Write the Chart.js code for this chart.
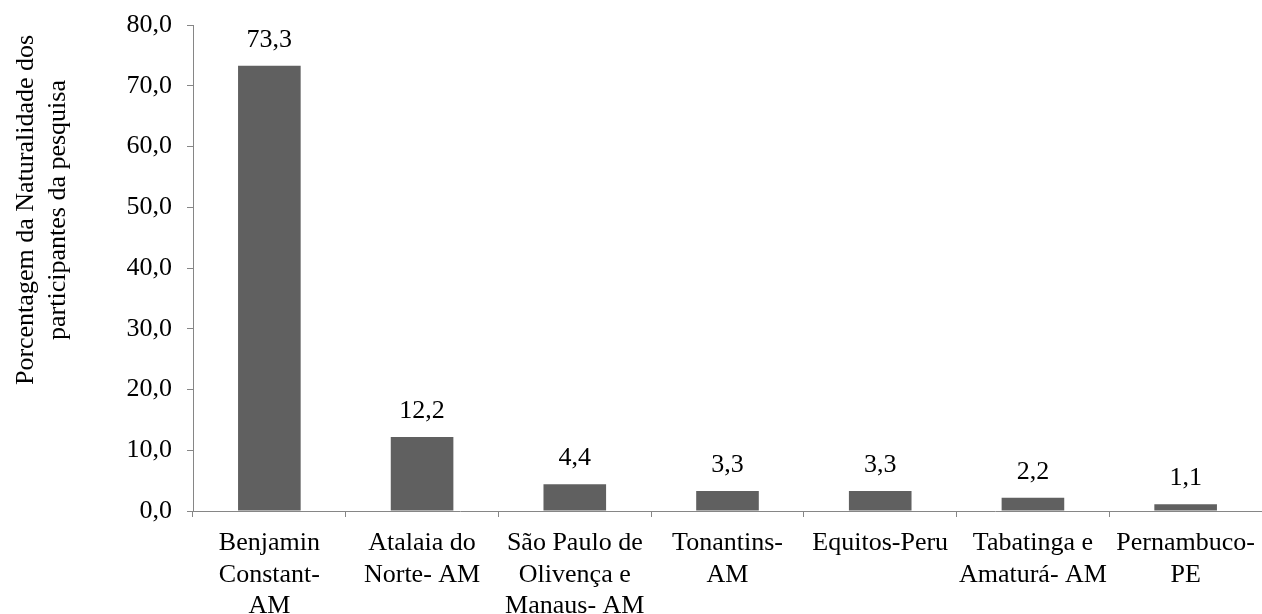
<!DOCTYPE html>
<html lang="pt">
<head>
<meta charset="utf-8">
<title>Naturalidade dos participantes da pesquisa</title>
<script src="https://cdn.jsdelivr.net/npm/chart.js@4/dist/chart.umd.min.js"></script>
<style>
  html, body { margin: 0; padding: 0; background: #ffffff; }
  #wrap { width: 1262px; height: 614px; position: relative; }
</style>
</head>
<body>
<div id="wrap"><canvas id="chart" width="1262" height="614"></canvas></div>
<script>
// Categories (multi-line labels) and percentages
const categories = [
  ["Benjamin", "Constant-", "AM"],
  ["Atalaia do", "Norte- AM"],
  ["São Paulo de", "Olivença e", "Manaus- AM"],
  ["Tonantins-", "AM"],
  ["Equitos-Peru"],
  ["Tabatinga e", "Amaturá- AM"],
  ["Pernambuco-", "PE"]
];
const percentages = [73.3, 12.2, 4.4, 3.3, 3.3, 2.2, 1.1];
const yTicks = [0, 10, 20, 30, 40, 50, 60, 70, 80];
const yTitleLines = ["Porcentagem da Naturalidade dos", "participantes da pesquisa"];

const FONT = "'Liberation Serif', 'Times New Roman', serif";
const AXIS_GRAY = '#868686';
const BAR_GRAY = '#606060';

const fmt = v => v.toFixed(1).replace('.', ',');

// Value labels drawn above each bar
const valueLabels = {
  id: 'valueLabels',
  afterDatasetsDraw(chart) {
    const { ctx } = chart;
    const meta = chart.getDatasetMeta(0);
    ctx.save();
    ctx.font = "26px " + FONT;
    ctx.fillStyle = '#000000';
    ctx.textAlign = 'center';
    ctx.textBaseline = 'alphabetic';
    meta.data.forEach((bar, i) => {
      ctx.fillText(fmt(percentages[i]), bar.x, bar.y - 19);
    });
    ctx.restore();
  }
};

// Two-line rotated title for the value axis
const yAxisTitle = {
  id: 'yAxisTitle',
  afterDraw(chart) {
    const { ctx, chartArea } = chart;
    const cy = (chartArea.top + chartArea.bottom) / 2 - 58;
    ctx.save();
    ctx.font = "26px " + FONT;
    ctx.fillStyle = '#000000';
    ctx.textAlign = 'center';
    ctx.textBaseline = 'middle';
    yTitleLines.forEach((line, i) => {
      ctx.save();
      ctx.translate(26 + i * 32, cy);
      ctx.rotate(-Math.PI / 2);
      ctx.fillText(line, 0, 0);
      ctx.restore();
    });
    ctx.restore();
  }
};

new Chart(document.getElementById('chart'), {
  type: 'bar',
  data: {
    labels: categories,
    datasets: [{
      data: percentages,
      backgroundColor: BAR_GRAY,
      borderWidth: 0,
      barPercentage: 0.82,
      categoryPercentage: 0.5
    }]
  },
  options: {
    responsive: false,
    animation: false,
    devicePixelRatio: 1,
    layout: { padding: { left: 0, right: 0, top: 25, bottom: 0 } },
    plugins: {
      legend: { display: false },
      tooltip: { enabled: false },
      title: { display: false }
    },
    scales: {
      x: {
        offset: true,
        grid: {
          display: true,
          drawOnChartArea: false,
          offset: true,
          tickLength: 6,
          color: AXIS_GRAY,
          lineWidth: 1
        },
        border: { display: true, color: AXIS_GRAY, width: 1 },
        ticks: {
          color: '#000000',
          font: { family: FONT, size: 26, lineHeight: 1.2 },
          padding: 11,
          maxRotation: 0,
          minRotation: 0,
          autoSkip: false
        },
        afterFit(scale) {
          scale.height = 103;
          scale.paddingLeft = 0;
          scale.paddingRight = 0;
        }
      },
      y: {
        min: 0,
        max: 80,
        afterBuildTicks(scale) { scale.ticks = yTicks.map(v => ({ value: v })); },
        grid: {
          display: true,
          drawOnChartArea: false,
          tickLength: 6,
          color: AXIS_GRAY,
          lineWidth: 1
        },
        border: { display: true, color: AXIS_GRAY, width: 1 },
        ticks: {
          color: '#000000',
          font: { family: FONT, size: 26 },
          padding: 15,
          callback: v => fmt(v)
        },
        afterFit(scale) {
          scale.width = 193;
          scale.paddingTop = 0;
          scale.paddingBottom = 0;
        }
      }
    }
  },
  plugins: [valueLabels, yAxisTitle]
});
</script>
</body>
</html>
